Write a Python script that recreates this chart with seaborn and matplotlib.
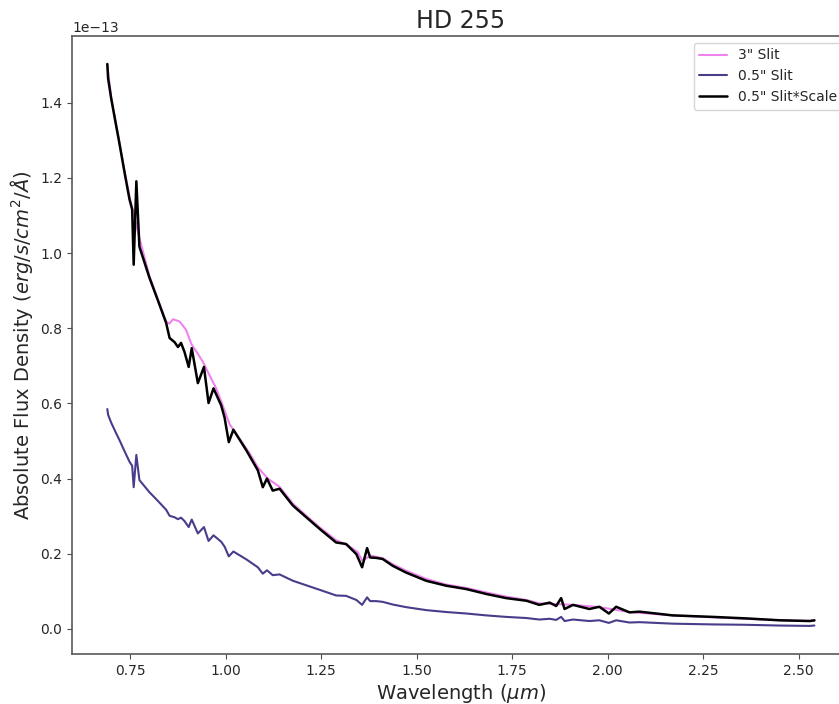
import numpy as np
import pandas as pd
import matplotlib
matplotlib.use("Agg")
import matplotlib.pyplot as plt
import seaborn as sns

# wavelength grid (micron) shared by the 0.5" slit spectra
wave = [0.690, 0.692, 0.700, 0.712, 0.722, 0.735, 0.748, 0.755, 0.759, 0.766,
        0.774, 0.800, 0.821, 0.844, 0.853, 0.866, 0.875, 0.883, 0.892, 0.903,
        0.911, 0.927, 0.943, 0.955, 0.968, 0.988, 0.997, 1.008, 1.020, 1.054,
        1.084, 1.097, 1.108, 1.123, 1.141, 1.176, 1.211, 1.246, 1.289, 1.315,
        1.342, 1.357, 1.370, 1.378, 1.394, 1.411, 1.437, 1.472, 1.525, 1.577,
        1.630, 1.682, 1.734, 1.787, 1.821, 1.848, 1.865, 1.878, 1.887, 1.909,
        1.952, 1.978, 2.003, 2.022, 2.057, 2.083, 2.170, 2.275, 2.362, 2.450,
        2.528, 2.541]

# 0.5" slit flux (units of 1e-13 erg/s/cm^2/A)
narrow_flux = [0.585, 0.570, 0.549, 0.523, 0.502, 0.473, 0.445, 0.434, 0.377, 0.463,
               0.396, 0.364, 0.342, 0.317, 0.301, 0.297, 0.292, 0.296, 0.287, 0.271,
               0.291, 0.254, 0.271, 0.234, 0.249, 0.232, 0.219, 0.193, 0.206, 0.185,
               0.164, 0.147, 0.156, 0.143, 0.145, 0.128, 0.116, 0.104, 0.089, 0.088,
               0.077, 0.064, 0.084, 0.074, 0.074, 0.072, 0.065, 0.058, 0.050, 0.045,
               0.041, 0.036, 0.032, 0.029, 0.025, 0.027, 0.024, 0.032, 0.021, 0.025,
               0.021, 0.023, 0.016, 0.023, 0.017, 0.018, 0.014, 0.012, 0.011, 0.009,
               0.008, 0.009]

# 0.5" slit scaled to the 3" slit
scaled_flux = [1.503, 1.465, 1.412, 1.345, 1.290, 1.215, 1.143, 1.116, 0.969, 1.191,
               1.017, 0.935, 0.878, 0.814, 0.774, 0.763, 0.750, 0.761, 0.737, 0.697,
               0.747, 0.654, 0.697, 0.601, 0.640, 0.595, 0.562, 0.497, 0.530, 0.475,
               0.422, 0.377, 0.400, 0.368, 0.373, 0.328, 0.297, 0.266, 0.230, 0.226,
               0.199, 0.164, 0.215, 0.190, 0.189, 0.186, 0.168, 0.150, 0.128, 0.115,
               0.106, 0.093, 0.082, 0.075, 0.064, 0.070, 0.061, 0.082, 0.053, 0.064,
               0.053, 0.059, 0.041, 0.059, 0.044, 0.046, 0.036, 0.032, 0.028, 0.023,
               0.021, 0.023]

# 3" slit
wide_wave = [0.690, 0.700, 0.712, 0.722, 0.735, 0.748, 0.760, 0.774, 0.800, 0.821,
             0.844, 0.852, 0.862, 0.879, 0.896, 0.910, 0.925, 0.940, 0.955, 0.975,
             0.990, 1.010, 1.030, 1.060, 1.084, 1.110, 1.141, 1.176, 1.211, 1.246,
             1.289, 1.320, 1.345, 1.357, 1.380, 1.411, 1.437, 1.472, 1.525, 1.577,
             1.630, 1.682, 1.734, 1.787, 1.821, 1.865, 1.909, 1.978, 2.057, 2.170,
             2.275, 2.362, 2.450, 2.541]
wide_flux = [1.500, 1.415, 1.348, 1.292, 1.218, 1.150, 1.100, 1.040, 0.940, 0.880,
             0.818, 0.812, 0.824, 0.818, 0.796, 0.758, 0.735, 0.711, 0.680, 0.640,
             0.600, 0.545, 0.515, 0.471, 0.430, 0.400, 0.378, 0.333, 0.301, 0.270,
             0.236, 0.222, 0.205, 0.182, 0.195, 0.188, 0.172, 0.155, 0.133, 0.118,
             0.109, 0.097, 0.086, 0.077, 0.068, 0.066, 0.064, 0.058, 0.045, 0.036,
             0.031, 0.027, 0.023, 0.021]

unit = 1e-13

sns.set_style("ticks")
plt.rcParams['font.family'] = ['DejaVu Sans']
plt.rcParams['mathtext.fontset'] = 'dejavusans'

fig = plt.figure(figsize=(8.39, 7.04), dpi=100)
ax = fig.add_axes([0.0858, 0.071, 0.927, 0.878])

sns.lineplot(x=np.array(wide_wave), y=np.array(wide_flux) * unit, color='violet',
             lw=1.5, label='3" Slit', ax=ax, sort=False)
sns.lineplot(x=np.array(wave), y=np.array(narrow_flux) * unit, color='darkslateblue',
             lw=1.5, label='0.5" Slit', ax=ax, sort=False)
sns.lineplot(x=np.array(wave), y=np.array(scaled_flux) * unit, color='black',
             lw=1.8, label='0.5" Slit*Scale', ax=ax, sort=False)

ax.set_xlim(0.5975, 2.6335)
ax.set_xticks([0.75, 1.00, 1.25, 1.50, 1.75, 2.00, 2.25, 2.50])
ax.set_title('HD 255', fontsize=17)
ax.set_xlabel(r'Wavelength ($\mu m$)', fontsize=14, labelpad=3)
ax.set_ylabel(r'Absolute Flux Density ($erg/s/cm^2/\AA$)', fontsize=14)
ax.tick_params(labelsize=10, color='0.3')
ax.yaxis.get_offset_text().set_fontsize(10)
for s in ax.spines.values():
    s.set_color('0.35')
    s.set_linewidth(1.2)
ax.legend(loc='upper right', fontsize=10, frameon=True)

fig.savefig('out.png', dpi=100)
